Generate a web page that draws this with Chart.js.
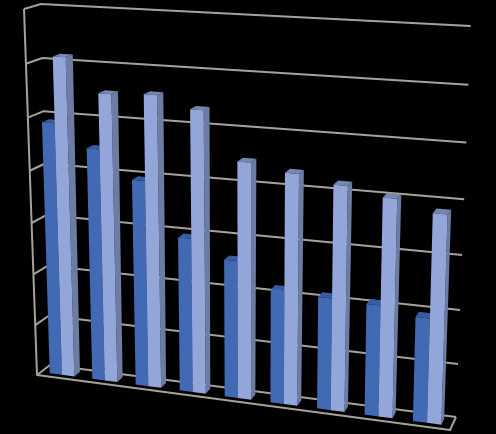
<!DOCTYPE html>
<html>
<head>
<meta charset="utf-8">
<title>3D bars</title>
<script src="https://cdn.jsdelivr.net/npm/chart.js@4"></script>
<style>
  html, body { margin: 0; padding: 0; background: #000; }
  #chart { display: block; filter: blur(0.5px); }
</style>
</head>
<body>
<canvas id="chart" width="496" height="434"></canvas>
<script>
const categories = ['1', '2', '3', '4', '5', '6', '7', '8', '9'];
const darkValues = [4.89, 4.47, 3.95, 2.95, 2.62, 2.15, 2.11, 2.08, 1.94];
const lightValues = [6.13, 5.51, 5.55, 5.34, 4.46, 4.33, 4.19, 4.04, 3.84];
const yMax = 7;

// corners of the box, [top-left, top-right, bottom-right, bottom-left]
const backWall = [[41, 4], [470.7, 26], [456, 417], [50, 365]];
const frontWall = [[24, 9], [461, 34], [450, 430], [37, 375]];
const barFront = 0.7;
const barBack = 0.25;

const lineColor = '#a6a298';
const darkFaces = { front: '#4169b4', side: '#34538c', top: '#375c9f' };
const lightFaces = { front: '#93a6da', side: '#6d7ca3', top: '#7586b3' };

// unit square -> quad
function squareToQuad(q) {
  const [[x0, y0], [x1, y1], [x2, y2], [x3, y3]] = q;
  const dx1 = x1 - x2, dx2 = x3 - x2, sx = x0 - x1 + x2 - x3;
  const dy1 = y1 - y2, dy2 = y3 - y2, sy = y0 - y1 + y2 - y3;
  const den = dx1 * dy2 - dx2 * dy1;
  const g = (sx * dy2 - dx2 * sy) / den;
  const h = (dx1 * sy - sx * dy1) / den;
  const a = x1 - x0 + g * x1, b = x3 - x0 + h * x3;
  const d = y1 - y0 + g * y1, e = y3 - y0 + h * y3;
  return (u, v) => {
    const w = g * u + h * v + 1;
    return [(a * u + b * v + x0) / w, (d * u + e * v + y0) / w];
  };
}

const mappers = {};
function mapperAt(depth) {
  if (!mappers[depth]) {
    const quad = backWall.map((p, i) => [
      p[0] + (frontWall[i][0] - p[0]) * depth,
      p[1] + (frontWall[i][1] - p[1]) * depth,
    ]);
    mappers[depth] = squareToQuad(quad);
  }
  return mappers[depth];
}

const box3d = {
  id: 'box3d',
  beforeDatasetsDraw(chart) {
    const { ctx, chartArea: area, scales } = chart;
    const project = (px, py, depth) =>
      mapperAt(depth)((px - area.left) / area.width, (py - area.top) / area.height);

    const poly = (pts, fill) => {
      ctx.beginPath();
      pts.forEach((p, i) => (i ? ctx.lineTo(p[0], p[1]) : ctx.moveTo(p[0], p[1])));
      ctx.closePath();
      ctx.fillStyle = fill;
      ctx.fill();
    };
    const stroke = (pts) => {
      ctx.beginPath();
      pts.forEach((p, i) => (i ? ctx.lineTo(p[0], p[1]) : ctx.moveTo(p[0], p[1])));
      ctx.stroke();
    };

    // walls and floor
    ctx.save();
    ctx.strokeStyle = lineColor;
    ctx.lineWidth = 2;
    ctx.lineJoin = 'round';
    scales.y.ticks.forEach((t) => {
      const y = scales.y.getPixelForValue(t.value);
      stroke([project(area.left, y, 1), project(area.left, y, 0), project(area.right, y, 0)]);
    });
    const yTop = scales.y.getPixelForValue(yMax);
    const yZero = scales.y.getPixelForValue(0);
    stroke([project(area.left, yTop, 1), project(area.left, yZero, 1), project(area.right, yZero, 1), project(area.right, yZero, 0)]);

    // bars, left to right, dark one first so the light one covers its side
    const dark = chart.getDatasetMeta(0).data;
    const light = chart.getDatasetMeta(1).data;
    categories.forEach((c, i) => {
      [[dark[i], darkFaces], [light[i], lightFaces]].forEach(([bar, faces]) => {
        const l = bar.x - bar.width / 2;
        const r = bar.x + bar.width / 2;
        const fTL = project(l, bar.y, barFront), fTR = project(r, bar.y, barFront);
        const fBL = project(l, bar.base, barFront), fBR = project(r, bar.base, barFront);
        const bTL = project(l, bar.y, barBack), bTR = project(r, bar.y, barBack);
        const bBR = project(r, bar.base, barBack);
        poly([fTR, bTR, bBR, fBR], faces.side);
        poly([fTL, bTL, bTR, fTR], faces.top);
        poly([fTL, fTR, fBR, fBL], faces.front);
      });
    });
    ctx.restore();
    return false;
  },
};

new Chart(document.getElementById('chart'), {
  type: 'bar',
  data: {
    labels: categories,
    datasets: [
      { data: darkValues, backgroundColor: darkFaces.front, categoryPercentage: 0.58, barPercentage: 1 },
      { data: lightValues, backgroundColor: lightFaces.front, categoryPercentage: 0.58, barPercentage: 1 },
    ],
  },
  options: {
    responsive: false,
    animation: false,
    devicePixelRatio: 1,
    layout: { padding: 0 },
    plugins: { legend: { display: false }, tooltip: { enabled: false } },
    scales: {
      x: { display: false },
      y: { display: false, min: 0, max: yMax, ticks: { stepSize: 1 } },
    },
  },
  plugins: [box3d],
});
</script>
</body>
</html>
